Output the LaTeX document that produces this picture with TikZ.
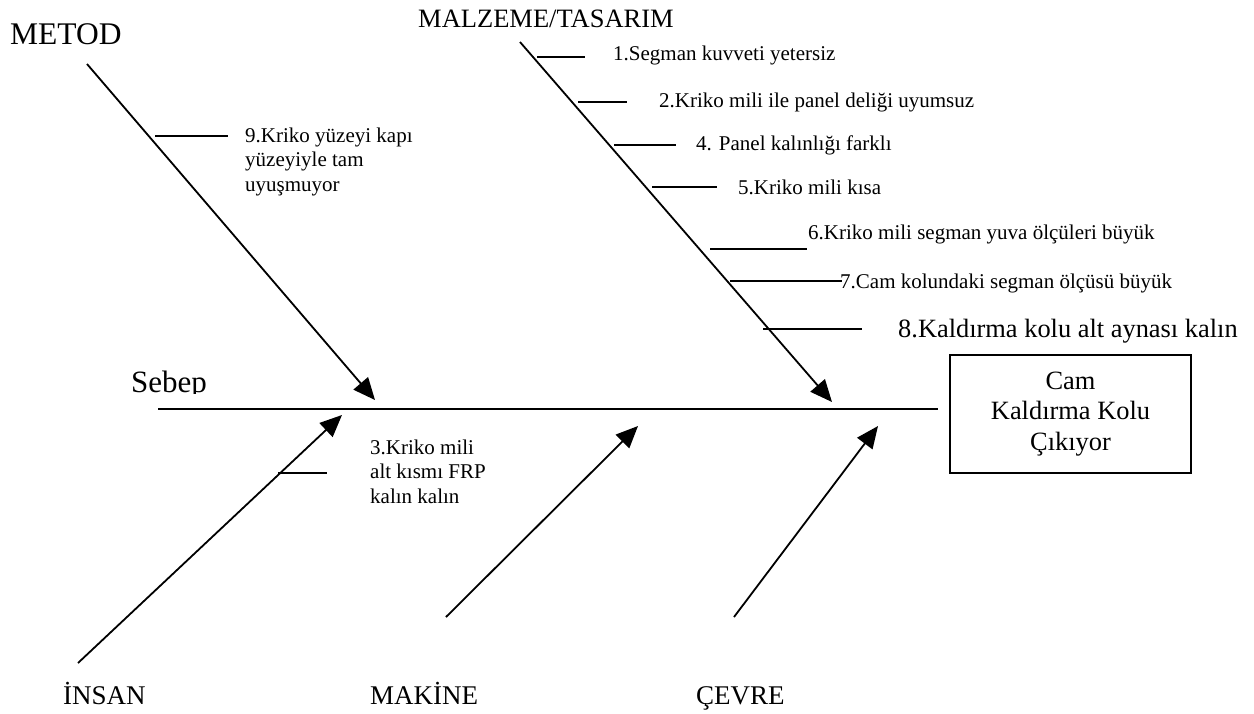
\documentclass[tikz,border=0pt]{standalone}
\usepackage{fontspec}
\setmainfont{Liberation Serif}
\usetikzlibrary{arrows.meta}
\begin{document}
\begin{tikzpicture}[x=1pt,y=-1pt,
  bone/.style={line width=1.8pt},
  causearrow/.style={bone,-{Triangle[length=22pt,width=19pt]}},
  spine/.style={line width=2.6pt},
  twig/.style={line width=2pt},
  lbl/.style={anchor=base west,inner sep=0pt,font=\fontsize{21}{24.5}\selectfont},
  cat/.style={anchor=base west,inner sep=0pt,font=\fontsize{27}{32}\selectfont},
  effectbox/.style={draw,line width=2pt,minimum width=241pt,minimum height=118pt,
    inner sep=0pt,align=center,font=\fontsize{26.4}{30.5}\selectfont},
]
\useasboundingbox (0,0) rectangle (1254,713);

% category headings
\node[anchor=base west,inner sep=0pt,font=\fontsize{31.5}{36}\selectfont] (metod) at (10,44) {METOD};
\node[anchor=base west,inner sep=0pt,font=\fontsize{26.5}{30}\selectfont] (malzeme) at (418,27) {MALZEME/TASARIM};
\node[cat] (insan) at (63,704) {İNSAN};
\node[cat] (makine) at (370,704) {MAKİNE};
\node[cat] (cevre) at (696,704) {ÇEVRE};

% spine title, cut at the baseline
\begin{scope}
  \clip (100,340) rectangle (260,393);
  \node[anchor=base west,inner sep=0pt,font=\fontsize{31}{36}\selectfont] (sebep) at (131,392) {Sebep};
\end{scope}

% effect box and spine
\node[effectbox] (effect) at (1070.5,414) {Cam\\Kaldırma Kolu\\Çıkıyor};
\coordinate (spineL) at (158,409);
\coordinate (spineR) at (938,409);
\draw[spine] (spineL) -- (spineR);

% main bones
\coordinate (metodA) at (87,64);   \coordinate (metodB) at (375,400);
\coordinate (malzA) at (520,42);   \coordinate (malzB) at (832,402);
\coordinate (insanA) at (78,663);  \coordinate (insanB) at (342,415);
\coordinate (makA) at (446,617);   \coordinate (makB) at (638,426);
\coordinate (cevA) at (734,617);   \coordinate (cevB) at (878,426);
\draw[causearrow] (metodA) -- (metodB);
\draw[causearrow] (malzA) -- (malzB);
\draw[causearrow] (insanA) -- (insanB);
\draw[causearrow] (makA) -- (makB);
\draw[causearrow] (cevA) -- (cevB);

% METOD causes
\coordinate (t9a) at (155,136); \coordinate (t9b) at (228,136);
\draw[twig] (t9a) -- (t9b);
\node[lbl] (c9) at (245,142) {\begin{tabular}[t]{@{}l@{}}9.Kriko yüzeyi kapı\\yüzeyiyle tam\\uyuşmuyor\end{tabular}};

% MALZEME/TASARIM causes
\coordinate (t1a) at (537,57);  \coordinate (t1b) at (585,57);
\coordinate (t2a) at (578,102); \coordinate (t2b) at (627,102);
\coordinate (t4a) at (614,145); \coordinate (t4b) at (676,145);
\coordinate (t5a) at (652,187); \coordinate (t5b) at (717,187);
\coordinate (t6a) at (710,249); \coordinate (t6b) at (807,249);
\coordinate (t7a) at (730,281); \coordinate (t7b) at (842,281);
\coordinate (t8a) at (763,329); \coordinate (t8b) at (862,329);
\foreach \t in {1,2,4,5,6,7,8} \draw[twig] (t\t a) -- (t\t b);
\node[lbl] (c1) at (613,60) {1.Segman kuvveti yetersiz};
\node[lbl] (c2) at (659,107) {2.Kriko mili ile panel deliği uyumsuz};
\node[lbl] (c4) at (696,150) {4. Panel kalınlığı farklı};
\node[lbl] (c5) at (738,194) {5.Kriko mili kısa};
\node[lbl] (c6) at (808,239) {6.Kriko mili segman yuva ölçüleri büyük};
\node[lbl] (c7) at (840,288) {7.Cam kolundaki segman ölçüsü büyük};
\node[anchor=base west,inner sep=0pt,font=\fontsize{26.4}{30}\selectfont] (c8) at (898,337) {8.Kaldırma kolu alt aynası kalın};

% İNSAN cause
\coordinate (t3a) at (278,473); \coordinate (t3b) at (327,473);
\draw[twig] (t3a) -- (t3b);
\node[lbl] (c3) at (370,454) {\begin{tabular}[t]{@{}l@{}}3.Kriko mili\\alt kısmı FRP\\kalın kalın\end{tabular}};
\end{tikzpicture}
\end{document}
